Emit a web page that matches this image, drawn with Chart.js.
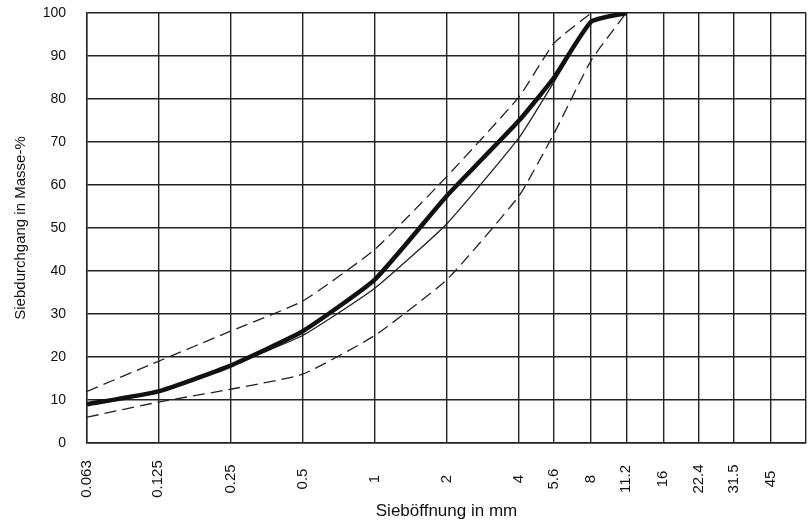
<!DOCTYPE html>
<html lang="de">
<head>
    <meta charset="UTF-8">
    <title>Sieblinie</title>
    <style>
        body { margin: 0; background: #fff; }
    </style>
</head>
<body>
    <canvas id="myChart" width="812" height="531"></canvas>

    <script src="https://cdn.jsdelivr.net/npm/chart.js@4"></script>
    <script>
        // Siebgrößen in mm (x-Achse, logarithmisch)
        const sieves = [0.063, 0.125, 0.25, 0.5, 1, 2, 4, 5.6, 8, 11.2]
        const gridSieves = [0.063, 0.125, 0.25, 0.5, 1, 2, 4, 5.6, 8, 11.2, 16, 22.4, 31.5, 45, 63]
        const xTickLabels = ['0.063', '0.125', '0.25', '0.5', '1', '2', '4', '5.6', '8', '11.2', '16', '22.4', '31.5', '45']

        // Siebdurchgang in Masse-%
        const sieblinie = [9, 12, 18, 26, 38, 57.5, 75, 85, 98, 100]
        const vergleich = [9, 12, 18, 25, 36, 51, 71, 84, 98, 100]
        const obereGrenze = [12, 19, 26, 33, 45, 62, 80.5, 93, 100, null]
        const untereGrenze = [6, 9.5, 12.5, 16, 25, 38, 57.5, 72, 89, 100]

        const fontFam = '"Liberation Sans", Arial, sans-serif'

        function points(values){
            return sieves.map((s, i) => ({x: s, y: values[i]})).filter(p => p.y !== null)
        }

        // eigene, senkrecht zentrierte Beschriftung der x-Achse
        const xLabelPlugin = {
            id: 'xLabels',
            afterDraw(chart){
                const ctx = chart.ctx
                const xs = chart.scales.x
                ctx.save()
                ctx.font = '15px ' + fontFam
                ctx.fillStyle = '#111'
                ctx.textAlign = 'center'
                ctx.textBaseline = 'middle'
                xTickLabels.forEach((lbl, i) => {
                    const px = xs.getPixelForValue(gridSieves[i])
                    ctx.save()
                    ctx.translate(px, 479)
                    ctx.rotate(-Math.PI / 2)
                    ctx.fillText(lbl, 0, 0)
                    ctx.restore()
                })
                ctx.restore()
            }
        }

        const ctx = document.getElementById('myChart').getContext('2d')
        const chart = new Chart(ctx, {
            type: 'line',
            data: {
                datasets: [
                    {
                        data: points(sieblinie),
                        borderColor: '#111',
                        borderWidth: 4.5
                    },
                    {
                        data: points(vergleich),
                        borderColor: '#222',
                        borderWidth: 1.3
                    },
                    {
                        data: points(obereGrenze),
                        borderColor: '#222',
                        borderWidth: 1.3,
                        borderDash: [12, 6]
                    },
                    {
                        data: points(untereGrenze),
                        borderColor: '#222',
                        borderWidth: 1.3,
                        borderDash: [12, 6]
                    }
                ]
            },
            options: {
                responsive: false,
                animation: false,
                layout: { padding: { top: 13, right: 6, left: 0, bottom: 0 } },
                elements: {
                    point: { radius: 0 },
                    line: { tension: 0.15, fill: false, borderJoinStyle: 'round' }
                },
                plugins: {
                    legend: { display: false },
                    tooltip: { enabled: false }
                },
                scales: {
                    x: {
                        type: 'logarithmic',
                        min: 0.063,
                        max: 63,
                        afterBuildTicks: scale => {
                            scale.ticks = gridSieves.map(v => ({ value: v }))
                        },
                        afterFit: scale => {
                            scale.height = 88
                            scale.paddingLeft = 0
                            scale.paddingRight = 0
                        },
                        ticks: { display: false },
                        grid: { color: '#222', lineWidth: 1.4, drawTicks: false },
                        border: { color: '#222', width: 1.4 },
                        title: {
                            display: true,
                            text: 'Sieböffnung in mm',
                            color: '#111',
                            font: { family: fontFam, size: 17 },
                            padding: { top: 0, bottom: 9 }
                        }
                    },
                    y: {
                        min: 0,
                        max: 100,
                        afterFit: scale => {
                            scale.width = 87
                            scale.paddingTop = 0
                            scale.paddingBottom = 0
                        },
                        ticks: {
                            stepSize: 10,
                            padding: 21,
                            color: '#111',
                            font: { family: fontFam, size: 14 }
                        },
                        grid: { color: '#222', lineWidth: 1.4, drawTicks: false },
                        border: { color: '#222', width: 1.4 },
                        title: {
                            display: true,
                            text: 'Siebdurchgang in Masse-%',
                            color: '#111',
                            font: { family: fontFam, size: 15 },
                            padding: { top: 12, bottom: 0 }
                        }
                    }
                }
            },
            plugins: [xLabelPlugin]
        })
    </script>
</body>
</html>
